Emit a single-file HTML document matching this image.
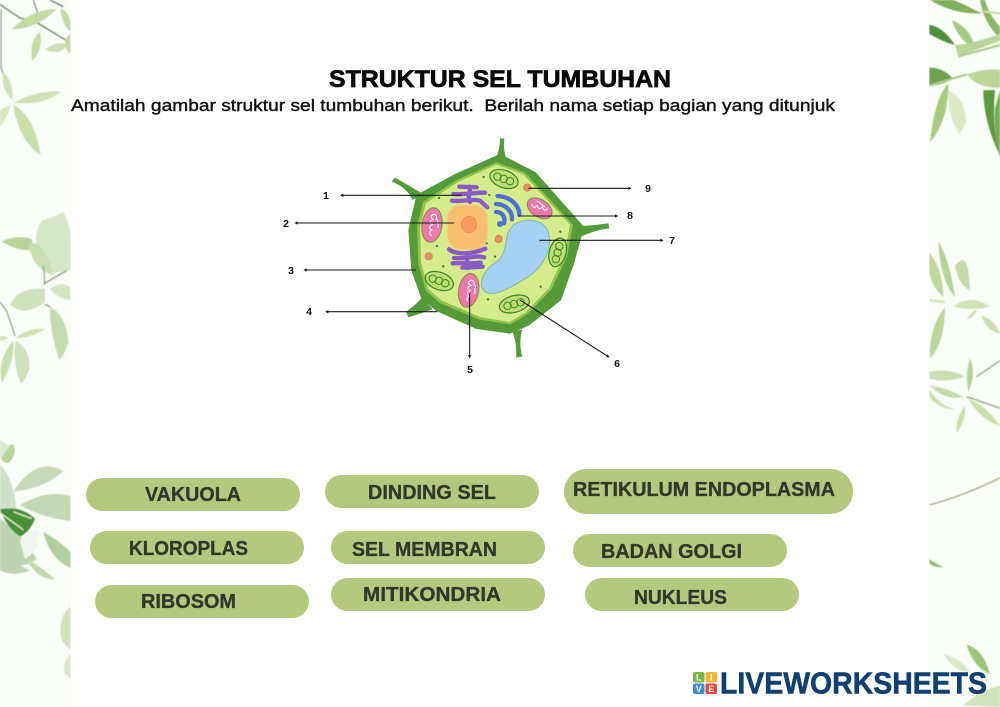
<!DOCTYPE html>
<html>
<head>
<meta charset="utf-8">
<style>
html,body{margin:0;padding:0;background:#fff}
svg{display:block}
text{font-family:"Liberation Sans",sans-serif}
</style>
</head>
<body>
<svg width="1000" height="707" viewBox="0 0 1000 707" xmlns="http://www.w3.org/2000/svg">
<defs>
<filter id="bl" x="-5%" y="-5%" width="110%" height="110%"><feGaussianBlur stdDeviation="0.6"/></filter>
<clipPath id="cl"><rect x="0" y="0" width="70.5" height="707"/></clipPath>
<clipPath id="cr"><rect x="929" y="0" width="71" height="707"/></clipPath>
</defs>
<rect width="1000" height="707" fill="#fafdf8"/>

<!-- left foliage -->
<g clip-path="url(#cl)"><g filter="url(#bl)"><g transform="scale(.33333,.45089)">
<path d="M0,10 L60,40 L110,50 L200,90 M100,0 L118,40 M150,0 L190,15" stroke="#7d8a70" stroke-width="3.5" fill="none"/>
<path d="M3,20 L3,150 L14,170" stroke="#9aa394" stroke-width="4" fill="none"/>
<path d="M35,65 Q95,20 170,20 Q110,65 35,65Z" fill="#c5dba5"/>
<path d="M97,135 Q85,95 120,70 Q130,110 97,135Z" fill="#c3dca0"/>
<path d="M135,110 Q170,90 205,98 Q180,125 135,110Z" fill="#cde0b0"/>
<path d="M180,20 Q215,25 212,70 Q190,60 180,20Z" fill="#c5d8a8"/>
<path d="M195,90 Q212,70 212,75 L212,120 Q195,110 195,90Z" fill="#c5d8a8"/>
<path d="M40,228 Q110,200 185,203 Q130,235 40,228Z" fill="#cfe2b5"/>
<path d="M40,232 Q105,260 122,345 Q55,310 40,232Z" fill="#c9dfac"/>
<path d="M38,222 Q0,195 10,160 Q40,180 38,222Z" fill="#cfe2b5"/>
<path d="M32,235 Q15,270 0,280 L0,245 Q15,235 32,235Z" fill="#d5e5bf"/>

<path d="M150,610 Q80,540 125,490 Q170,480 190,470 Q225,520 212,600 Q180,600 150,610Z" fill="#d6e6c6"/>
<path d="M5,535 Q55,520 95,530 Q100,550 90,555 Q45,555 5,535Z" fill="#bcd49c"/>
<path d="M85,540 Q130,530 160,610 Q100,600 85,540Z" fill="#c9deb2"/>
<path d="M135,640 Q60,635 30,675 Q70,705 135,670Z" fill="#d0e2bd"/>
<path d="M150,640 Q190,620 212,640 L212,665 Q175,665 150,640Z" fill="#d5e6c5"/>
<path d="M150,680 Q200,700 205,760 Q190,790 178,798 Q150,740 150,680Z" fill="#c5dbb0"/>
<path d="M45,750 Q90,725 135,730 Q95,750 45,750Z" fill="#cfe2b5"/>
<path d="M40,755 Q45,800 5,848 Q-10,800 40,755Z" fill="#c9deaf"/>
<path d="M48,755 Q95,780 88,820 Q70,850 62,850 Q35,800 48,755Z" fill="#cfe2bd"/>
<path d="M0,745 Q15,745 25,750 Q10,755 0,755Z" fill="#cfe2b5"/>
<path d="M0,670 L20,690 L45,745 M130,630 L200,600 M130,590 L135,630 M135,675 L150,680" stroke="#87936f" stroke-width="3" fill="none"/>

<path d="M40,985 Q0,995 5,1020 Q30,1040 45,1000Z" fill="#b6d39a"/>
<path d="M0,975 L30,990 L0,1020Z" fill="#dce8d2"/>
<path d="M40,1090 Q110,1010 190,1045 Q130,1085 40,1090Z" fill="#c6dab8"/>
<path d="M0,1030 Q40,1060 50,1130 Q20,1150 0,1140Z" fill="#cfe0c6"/>
<path d="M60,1120 Q140,1085 212,1100 L212,1155 Q130,1150 60,1120Z" fill="#c3d9b5"/>
<path d="M0,1150 Q60,1180 110,1240 Q50,1270 0,1240Z" fill="#bdd4b0"/>
<path d="M0,1130 Q60,1120 105,1150 Q90,1180 60,1190 Q20,1170 0,1130Z" fill="#4a8f38"/>
<path d="M5,1140 L70,1175 M40,1135 L95,1150" stroke="#eef3d0" stroke-width="3" fill="none"/>
<path d="M130,1180 Q180,1200 212,1225 L212,1260 Q150,1240 130,1180Z" fill="#b3ce9e"/>
<path d="M80,1240 Q130,1260 165,1285 Q110,1285 80,1240Z" fill="#c2d8ad"/>
<path d="M0,1240 Q50,1250 90,1265 Q40,1280 0,1265Z" fill="#bdd4b0"/>
<path d="M60,1200 Q90,1170 115,1180 Q120,1220 75,1240Z" fill="#f2f6ec"/>
<path d="M212,1345 Q170,1370 185,1420 Q205,1440 212,1440Z" fill="#d3e2bd"/>
<path d="M212,1450 Q185,1470 195,1495 L212,1505Z" fill="#d8e6c8"/>
</g></g></g>

<!-- right foliage -->
<g clip-path="url(#cr)"><g filter="url(#bl)"><g transform="translate(920,0) scale(.33333,.45089)">
<path d="M30,0 Q100,32 185,30 Q120,5 100,0Z" fill="#7fb05c"/>
<path d="M180,0 Q190,50 240,85 L240,60 Q205,30 195,0Z" fill="#8ab868"/>
<path d="M185,25 L240,30" stroke="#c5dca6" stroke-width="5"/>
<path d="M28,55 Q70,60 105,100 Q60,90 28,75Z" fill="#4f8f3c"/>
<path d="M95,45 Q150,60 165,105 Q120,95 95,45Z" fill="#a5c883"/>
<path d="M105,100 Q170,95 240,75 L240,90 Q170,110 115,125Z" fill="#b9d59a"/>
<path d="M28,150 Q70,150 100,175 Q60,190 28,190Z" fill="#6ca54d"/>
<path d="M140,165 Q200,150 240,155 L240,195 Q170,195 140,165Z" fill="#bcd79c"/>
<path d="M115,125 L240,100 M28,190 L140,165" stroke="#b0cc90" stroke-width="5" fill="none"/>
<path d="M85,185 Q45,215 30,315 Q85,270 85,185Z" fill="#a5cc80"/>
<path d="M85,200 Q135,215 138,270 Q120,300 115,295 Q80,250 85,200Z" fill="#dde9c6"/>
<path d="M190,200 L225,200 Q215,290 240,345 Q190,270 190,200Z" fill="#5c9a42"/>
<path d="M225,240 Q240,200 240,200 L240,350 Q220,300 225,240Z" fill="#74ab55"/>

<path d="M55,535 Q90,580 105,660 Q60,620 55,535Z" fill="#b5d394"/>
<path d="M28,560 Q70,600 70,660 Q30,630 28,600Z" fill="#bfd89e"/>
<path d="M105,590 Q135,560 145,600 L150,645 Q115,630 105,590Z" fill="#c3dca6"/>
<path d="M100,680 Q150,650 210,680 Q150,690 100,680Z" fill="#d0e3b5"/>
<path d="M75,680 Q75,760 30,795 Q25,730 75,680Z" fill="#bcd69c"/>
<path d="M140,710 Q165,680 170,690 Q160,705 140,710Z" fill="#cfe2b5"/>
<path d="M185,700 Q225,710 240,740 Q200,735 185,700Z" fill="#cbe0b0"/>
<path d="M28,665 L75,670" stroke="#cfe2b5" stroke-width="5"/>
<path d="M28,825 Q90,815 135,835 Q80,850 28,840Z" fill="#cbdfae"/>
<path d="M150,795 Q170,830 145,870 Q135,830 150,795Z" fill="#b5d394"/>
<path d="M28,855 Q80,860 130,880 Q80,890 28,855Z" fill="#c5dca6"/>
<path d="M28,865 Q60,900 110,910 Q50,905 28,880Z" fill="#c9dfac"/>
<path d="M145,885 Q200,900 240,945 Q180,930 145,885Z" fill="#c9dfac"/>
<path d="M135,900 Q140,930 110,960 Q105,930 135,900Z" fill="#cbe0b0"/>
<path d="M170,835 L240,800 M140,880 L240,905" stroke="#98a37f" stroke-width="3" fill="none"/>
<path d="M28,1120 Q130,1100 240,1060" stroke="#a9ae8f" stroke-width="3" fill="none"/>
<path d="M28,1240 Q50,1250 70,1258 Q45,1260 28,1250Z" fill="#9cbe78"/>
<path d="M140,1430 Q190,1440 210,1495 Q160,1480 140,1430Z" fill="#9cc77a"/>
<path d="M70,1450 Q120,1460 150,1490 Q100,1490 70,1450Z" fill="#dbe8c8"/>
<path d="M130,1565 Q180,1530 240,1520 L240,1568Z" fill="#d2e3be"/>
</g></g></g>

<!-- centre panel -->
<rect x="70.5" y="0" width="858.5" height="707" fill="#ffffff"/>

<!-- headings -->
<text x="329" y="87" font-size="24" font-weight="700" fill="#0a0a0a" stroke="#0a0a0a" stroke-width=".7" textLength="342" lengthAdjust="spacingAndGlyphs">STRUKTUR SEL TUMBUHAN</text>
<text x="71" y="111" font-size="17" font-weight="400" fill="#111" stroke="#111" stroke-width=".4" textLength="764" lengthAdjust="spacingAndGlyphs" xml:space="preserve">Amatilah gambar struktur sel tumbuhan berikut.  Berilah nama setiap bagian yang ditunjuk</text>

<!-- cell diagram -->
<g transform="translate(280,130) scale(.33333)">
  <g fill="#549a38">
    <path d="M646,90 Q660,60 660,25 L673,25 Q668,60 682,95Z"/>
    <path d="M398,210 Q380,172 335,155 L345,143 Q385,165 428,192Z"/>
    <path d="M892,320 L905,288 Q950,285 985,280 L988,295 Q940,300 892,325Z"/>
    <path d="M425,505 Q400,530 378,545 L385,562 Q420,552 458,537Z"/>
    <path d="M698,605 Q712,650 708,682 L727,680 Q715,640 727,598Z"/>
  </g>
  <path d="M660,76 L765,130 L908,292 L878,400 L840,508 L745,583 L690,607 L590,593 L472,540 L428,505 L398,420 L389,300 L413,197 L530,134 Z" fill="#549a38" stroke="#549a38" stroke-width="8" stroke-linejoin="round"/>
  <path d="M650,100 L733,130 L876,285 L858,380 L811,478 L738,552 L690,580 L600,566 L482,517 L440,480 L418,400 L414,290 L432,217 L530,153 Z" fill="#8fc34a" stroke="#8fc34a" stroke-width="6" stroke-linejoin="round"/>
  <path d="M650,108 L728,137 L866,285 L849,376 L803,473 L733,545 L688,572 L602,557 L488,509 L448,474 L427,396 L424,292 L441,222 L535,160 Z" fill="#d4ec8a" stroke="#d4ec8a" stroke-width="8" stroke-linejoin="round"/>

  <g fill="#3d7a30">
    <circle cx="611" cy="141" r="3.5"/><circle cx="477" cy="204" r="3.5"/><circle cx="628" cy="195" r="3.5"/>
    <circle cx="471" cy="348" r="3.5"/><circle cx="620" cy="340" r="3.5"/><circle cx="645" cy="380" r="3.5"/>
    <circle cx="490" cy="409" r="3.5"/><circle cx="624" cy="508" r="3.5"/><circle cx="782" cy="470" r="3.5"/><circle cx="841" cy="305" r="3.5"/>
  </g>

  <path d="M700,285 C740,258 802,268 808,320 C815,380 770,430 720,455 C680,480 640,500 615,485 C590,465 610,420 650,395 C680,375 675,330 685,305 Z" fill="#a5d2f2" stroke="#85b5a8" stroke-width="3"/>

  <rect x="502" y="225" width="120" height="133" rx="42" fill="#f8bf70" stroke="#f3cc80" stroke-width="3"/>
  <ellipse cx="567" cy="284" rx="23" ry="25" fill="#f89a5f" stroke="#e58a55" stroke-width="2"/>

  <g fill="none" stroke="#8a5ac8" stroke-width="13" stroke-linecap="round">
    <path d="M538,170 L590,172"/>
    <path d="M520,192 C550,196 590,186 615,188"/>
    <path d="M516,212 C550,216 580,205 600,212 L622,232"/>
    <path d="M568,170 C575,185 560,200 570,216"/>
    <path d="M507,358 C530,376 580,372 616,356"/>
    <path d="M522,384 C560,388 590,374 612,382"/>
    <path d="M518,400 C550,398 580,402 602,398"/>
    <path d="M547,413 L608,410"/>
    <path d="M558,370 C570,385 552,400 565,414"/>
  </g>

  <g fill="none" stroke="#4b6fdc" stroke-width="13" stroke-linecap="round">
    <path d="M653,198 C690,200 718,225 718,254"/>
    <path d="M648,222 C672,222 698,240 696,268"/>
    <path d="M648,246 C664,246 678,258 672,280"/>
  </g>
  <circle cx="660" cy="282" r="9" fill="#4b6fdc"/>

  <g fill="#f08a66" stroke="#c98a4c" stroke-width="2.5">
    <circle cx="742" cy="173" r="11"/><circle cx="656" cy="327" r="11"/><circle cx="446" cy="379" r="11"/>
  </g>

  <g fill="#ee78aa" stroke="#7f8a4d" stroke-width="3">
    <ellipse cx="456" cy="285" rx="30" ry="52" transform="rotate(8 456 285)"/>
    <ellipse cx="779" cy="235" rx="41" ry="26" transform="rotate(33 779 235)"/>
    <ellipse cx="566" cy="481" rx="30" ry="51" transform="rotate(10 566 481)"/>
  </g>
  <g fill="none" stroke="#ffffff" stroke-width="3">
    <path d="M462,252 q-16,8 -2,16 q-18,8 -2,16 q-18,8 -2,16 q-14,8 0,18 M462,252 q12,6 6,14 q10,6 4,14 q6,8 0,14"/>
    <path d="M575,450 q-18,8 -2,16 q-18,8 -2,16 q-18,8 -2,16 q-14,6 -4,16 M575,450 q12,6 6,14 q10,6 2,14 q6,8 -2,14"/>
    <path d="M755,222 q6,18 16,4 q6,18 16,4 q6,18 16,6 M770,213 q8,2 14,10 q8,2 12,10"/>
  </g>

  <g fill="#bede6e" stroke="#36862f" stroke-width="3.5">
    <g transform="translate(672,147) rotate(20)"><ellipse rx="44" ry="26"/><g fill="none" stroke-width="3"><circle cx="-21" r="11"/><circle cx="-1" r="11"/><circle cx="19" r="11"/></g></g>
    <g transform="translate(478,453) rotate(20)"><ellipse rx="44" ry="26"/><g fill="none" stroke-width="3"><circle cx="-21" r="11"/><circle cx="-1" r="11"/><circle cx="19" r="11"/></g></g>
    <g transform="translate(703,522) rotate(-15)"><ellipse rx="46" ry="25"/><g fill="none" stroke-width="3"><circle cx="-21" r="11"/><circle cx="-1" r="11"/><circle cx="19" r="11"/></g></g>
    <g transform="translate(833,367) rotate(-75)"><ellipse rx="44" ry="25"/><g fill="none" stroke-width="3"><circle cx="-21" r="11"/><circle cx="-1" r="11"/><circle cx="19" r="11"/></g></g>
  </g>

  <g stroke="#1a1a1a" stroke-width="3.2" fill="none">
    <path d="M185,196 H545"/>
    <path d="M48,279 H522"/>
    <path d="M75,420 H408"/>
    <path d="M140,545 H472"/>
    <path d="M569,490 V680"/>
    <path d="M720,510 L985,680"/>
    <path d="M778,331 H1146"/>
    <path d="M715,258 H1010"/>
    <path d="M745,175 H1050"/>
  </g>
  <g fill="#1a1a1a">
    <path d="M180,196 l10,-5 v10z"/>
    <path d="M43,279 l10,-5 v10z"/>
    <path d="M70,420 l10,-5 v10z"/>
    <path d="M135,545 l10,-5 v10z"/>
    <path d="M569,685 l-5,-10 h10z"/>
    <path d="M989,683 l-11,-2 l5,-8z"/>
    <path d="M1151,331 l-10,-5 v10z"/>
    <path d="M1015,258 l-10,-5 v10z"/>
    <path d="M1055,175 l-10,-5 v10z"/>
  </g>
</g>

<g font-size="10.5" font-weight="700" fill="#111" text-anchor="middle">
  <text x="326" y="199">1</text>
  <text x="286" y="227">2</text>
  <text x="291" y="274">3</text>
  <text x="309" y="315">4</text>
  <text x="470" y="373">5</text>
  <text x="617" y="367">6</text>
  <text x="672" y="244">7</text>
  <text x="630" y="219">8</text>
  <text x="648" y="192">9</text>
</g>

<g fill="#b4c97e">
  <rect x="86" y="478" width="214" height="33" rx="16.5"/>
  <rect x="325" y="475" width="214" height="33" rx="16.5"/>
  <rect x="564" y="469" width="289" height="45" rx="22.5"/>
  <rect x="90" y="531" width="214" height="33" rx="16.5"/>
  <rect x="331" y="531" width="214" height="33" rx="16.5"/>
  <rect x="573" y="534" width="214" height="33" rx="16.5"/>
  <rect x="95" y="585" width="214" height="33" rx="16.5"/>
  <rect x="331" y="578" width="214" height="33" rx="16.5"/>
  <rect x="585" y="578" width="214" height="33" rx="16.5"/>
</g>
<g font-size="20" font-weight="700" fill="#33362c" stroke="#33362c" stroke-width=".3">
  <text x="145" y="501" textLength="96" lengthAdjust="spacingAndGlyphs">VAKUOLA</text>
  <text x="368" y="499" textLength="128" lengthAdjust="spacingAndGlyphs">DINDING SEL</text>
  <text x="573" y="496" textLength="262" lengthAdjust="spacingAndGlyphs">RETIKULUM ENDOPLASMA</text>
  <text x="129" y="555" textLength="119" lengthAdjust="spacingAndGlyphs">KLOROPLAS</text>
  <text x="352" y="556" textLength="145" lengthAdjust="spacingAndGlyphs">SEL MEMBRAN</text>
  <text x="601" y="558" textLength="141" lengthAdjust="spacingAndGlyphs">BADAN GOLGI</text>
  <text x="141" y="608" textLength="95" lengthAdjust="spacingAndGlyphs">RIBOSOM</text>
  <text x="363" y="601" textLength="138" lengthAdjust="spacingAndGlyphs">MITIKONDRIA</text>
  <text x="634" y="604" textLength="93" lengthAdjust="spacingAndGlyphs">NUKLEUS</text>
</g>

<g>
  <rect x="693" y="672" width="11.5" height="10.5" rx="2" fill="#7ab648"/>
  <rect x="705.5" y="672" width="11.5" height="10.5" rx="2" fill="#f2b632"/>
  <rect x="693" y="683.5" width="11.5" height="10.5" rx="2" fill="#3f8fd8"/>
  <rect x="705.5" y="683.5" width="11.5" height="10.5" rx="2" fill="#e2483d"/>
  <g font-size="9" font-weight="700" fill="#fff" text-anchor="middle">
    <text x="698.7" y="680.5">L</text><text x="711.2" y="680.5">I</text>
    <text x="698.7" y="692">V</text><text x="711.2" y="692">E</text>
  </g>
  <text x="720" y="693.5" font-size="31" font-weight="700" fill="#103f70" stroke="#103f70" stroke-width=".6" textLength="267" lengthAdjust="spacingAndGlyphs">LIVEWORKSHEETS</text>
</g>
</svg>
</body>
</html>
